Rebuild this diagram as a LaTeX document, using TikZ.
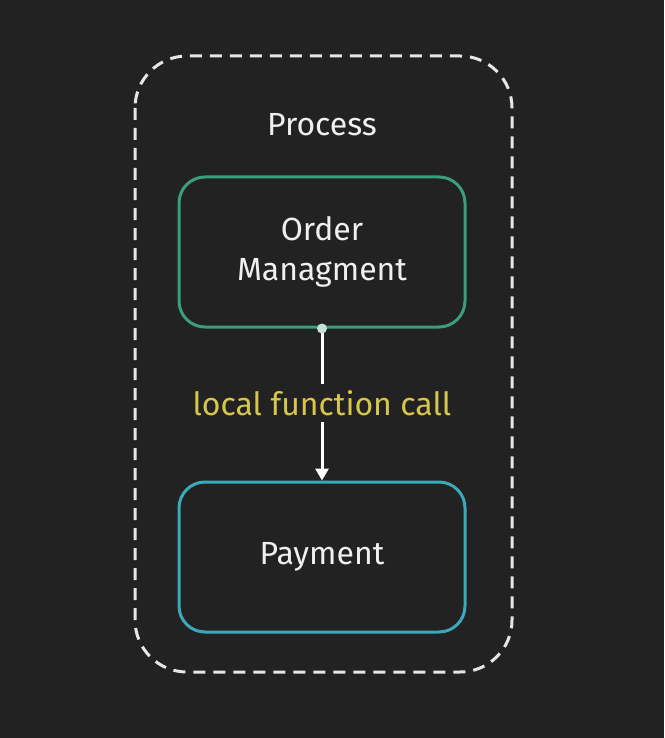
\documentclass[tikz,border=0pt]{standalone}
\usepackage{fontspec}
\setmainfont{Fira Sans}
\usetikzlibrary{arrows.meta}
\definecolor{bg}{HTML}{222222}
\definecolor{dashc}{HTML}{E6E6E6}
\definecolor{greenc}{HTML}{3A9E7C}
\definecolor{tealc}{HTML}{3AAAB8}
\definecolor{yell}{HTML}{D8C64C}
\definecolor{txt}{HTML}{F0F0F0}
\tikzset{
  box/.style={draw, line width=3pt, rounded corners=26pt, minimum width=286pt, minimum height=150pt, inner sep=0pt, align=center, text=txt, font=\fontsize{32}{40}\selectfont},
  lbl/.style={font=\fontsize{32}{36}\selectfont, inner sep=0pt}
}
\begin{document}
\begin{tikzpicture}[x=1pt,y=-1pt]
\fill[bg] (0,0) rectangle (664,738);
\useasboundingbox (0,0) rectangle (664,738);
\draw[dashc, line width=3pt, dash pattern=on 12pt off 8pt, rounded corners=52pt] (135,56) rectangle (512,672);
\node[lbl, text=txt] (proc) at (322,125) {Process};
\node[box, draw=greenc] (om) at (322,252) {Order\\Managment};
\node[box, draw=tealc] (pay) at (322,557) {Payment};
\node[lbl, text=yell, fill=bg, inner ysep=6pt, inner xsep=2pt] (call) at (322,403) {local function call};
\draw[white, line width=3pt] (om.south) -- (call.north);
\draw[white, line width=3pt, -{Triangle[length=12pt,width=13pt]}] (call.south) -- (pay.north);
\fill[white!70!greenc] (om.south) circle (5pt);
\end{tikzpicture}
\end{document}
